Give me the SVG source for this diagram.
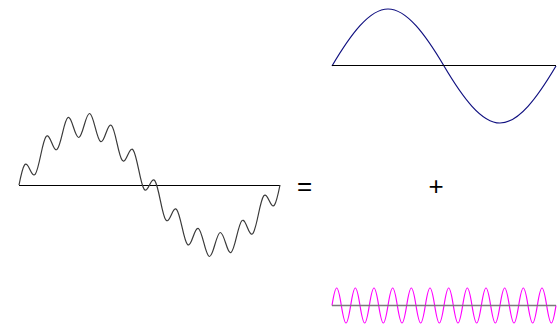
<svg xmlns="http://www.w3.org/2000/svg" width="559" height="326" viewBox="0 0 559 326">
<style>
.axis{stroke:#000;stroke-width:1;fill:none}
.wave{fill:none;stroke-width:1.2;stroke-linejoin:round}
.sym{font-family:"Liberation Sans",Arial,sans-serif;font-size:26px;fill:#000;text-anchor:middle}
</style>
<rect width="559" height="326" fill="#fff"/>
<g id="composite">
<line class="axis" x1="19" y1="185.5" x2="280" y2="185.5"/>
<path class="wave" stroke="#3a3a3a" d="M19,185 C20.81,176.10 22.63,167.76 24.44,165.17 C26.25,162.57 28.06,165.72 29.88,169.47 C31.69,173.23 33.50,176.46 35.31,174.04 C37.13,171.62 38.94,163.55 40.75,155 C42.56,146.45 44.38,138.55 46.19,136.47 C48.00,134.40 49.81,138.14 51.63,142.57 C53.44,147.01 55.25,150.99 57.06,149.40 C58.88,147.81 60.69,140.63 62.5,133.04 C64.31,125.45 66.13,118.57 67.94,117.57 C69.75,116.57 71.56,121.44 73.38,127.04 C75.19,132.65 77.00,137.86 78.81,137.51 C80.63,137.17 82.44,131.28 84.25,125 C86.06,118.72 87.88,113.17 89.69,113.51 C91.50,113.86 93.31,120.08 95.13,127.04 C96.94,134.01 98.75,140.57 100.56,141.57 C102.38,142.57 104.19,138.01 106,133.04 C107.81,128.06 109.63,123.81 111.44,125.40 C113.25,126.99 115.06,134.44 116.88,142.57 C118.69,150.71 120.50,158.40 122.31,160.47 C124.13,162.55 125.94,159.02 127.75,155 C129.56,150.98 131.38,147.62 133.19,150.04 C135.00,152.46 136.81,160.66 138.63,169.47 C140.44,178.28 142.25,186.57 144.06,189.17 C145.88,191.76 147.69,188.67 149.5,185 C151.31,181.34 153.13,178.24 154.94,180.83 C156.75,183.43 158.56,191.72 160.38,200.53 C162.19,209.34 164.00,217.54 165.81,219.96 C167.63,222.38 169.44,219.02 171.25,215 C173.06,210.98 174.88,207.45 176.69,209.53 C178.50,211.60 180.31,219.29 182.13,227.43 C183.94,235.56 185.75,243.01 187.56,244.60 C189.38,246.20 191.19,241.94 193,236.96 C194.81,231.99 196.63,227.43 198.44,228.43 C200.25,229.44 202.06,236.00 203.88,242.96 C205.69,249.92 207.50,256.14 209.31,256.49 C211.13,256.83 212.94,251.28 214.75,245 C216.56,238.72 218.38,232.83 220.19,232.49 C222.00,232.14 223.81,237.35 225.63,242.96 C227.44,248.56 229.25,253.44 231.06,252.43 C232.88,251.43 234.69,244.55 236.5,236.96 C238.31,229.37 240.13,222.20 241.94,220.60 C243.75,219.01 245.56,222.99 247.38,227.43 C249.19,231.86 251.00,235.60 252.81,233.53 C254.63,231.45 256.44,223.55 258.25,215 C260.06,206.45 261.88,198.38 263.69,195.96 C265.50,193.54 267.31,196.78 269.13,200.53 C270.94,204.28 272.75,207.43 274.56,204.83 C276.38,202.24 278.19,193.90 280,185"/>
</g>
<g id="equals">
<text class="sym" x="304.5" y="195">=</text>
</g>
<g id="plus">
<text class="sym" x="436" y="195">+</text>
</g>
<g id="fundamental">
<path class="wave" stroke="#101080" d="M332,66 C350.67,34.52 369.33,9 388,9 C406.67,9 425.33,34.52 444,66 C462.67,97.48 481.33,123 500,123 C518.67,123 537.33,97.48 556,66"/>
<line class="axis" x1="332" y1="65.5" x2="556" y2="65.5"/>
</g>
<g id="harmonic">
<path class="wave" stroke="#ff00ff" d="M332,305.5 c1.5556,-9.665 3.1111,-17.5 4.6667,-17.5 c1.5556,0 3.1111,7.835 4.6667,17.5 c1.5556,9.665 3.1111,17.5 4.6667,17.5 c1.5556,0 3.1111,-7.835 4.6667,-17.5 c1.5556,-9.665 3.1111,-17.5 4.6667,-17.5 c1.5556,0 3.1111,7.835 4.6667,17.5 c1.5556,9.665 3.1111,17.5 4.6667,17.5 c1.5556,0 3.1111,-7.835 4.6667,-17.5 c1.5556,-9.665 3.1111,-17.5 4.6667,-17.5 c1.5556,0 3.1111,7.835 4.6667,17.5 c1.5556,9.665 3.1111,17.5 4.6667,17.5 c1.5556,0 3.1111,-7.835 4.6667,-17.5 c1.5556,-9.665 3.1111,-17.5 4.6667,-17.5 c1.5556,0 3.1111,7.835 4.6667,17.5 c1.5556,9.665 3.1111,17.5 4.6667,17.5 c1.5556,0 3.1111,-7.835 4.6667,-17.5 c1.5556,-9.665 3.1111,-17.5 4.6667,-17.5 c1.5556,0 3.1111,7.835 4.6667,17.5 c1.5556,9.665 3.1111,17.5 4.6667,17.5 c1.5556,0 3.1111,-7.835 4.6667,-17.5 c1.5556,-9.665 3.1111,-17.5 4.6667,-17.5 c1.5556,0 3.1111,7.835 4.6667,17.5 c1.5556,9.665 3.1111,17.5 4.6667,17.5 c1.5556,0 3.1111,-7.835 4.6667,-17.5 c1.5556,-9.665 3.1111,-17.5 4.6667,-17.5 c1.5556,0 3.1111,7.835 4.6667,17.5 c1.5556,9.665 3.1111,17.5 4.6667,17.5 c1.5556,0 3.1111,-7.835 4.6667,-17.5 c1.5556,-9.665 3.1111,-17.5 4.6667,-17.5 c1.5556,0 3.1111,7.835 4.6667,17.5 c1.5556,9.665 3.1111,17.5 4.6667,17.5 c1.5556,0 3.1111,-7.835 4.6667,-17.5 c1.5556,-9.665 3.1111,-17.5 4.6667,-17.5 c1.5556,0 3.1111,7.835 4.6667,17.5 c1.5556,9.665 3.1111,17.5 4.6667,17.5 c1.5556,0 3.1111,-7.835 4.6667,-17.5 c1.5556,-9.665 3.1111,-17.5 4.6667,-17.5 c1.5556,0 3.1111,7.835 4.6667,17.5 c1.5556,9.665 3.1111,17.5 4.6667,17.5 c1.5556,0 3.1111,-7.835 4.6667,-17.5 c1.5556,-9.665 3.1111,-17.5 4.6667,-17.5 c1.5556,0 3.1111,7.835 4.6667,17.5 c1.5556,9.665 3.1111,17.5 4.6667,17.5 c1.5556,0 3.1111,-7.835 4.6667,-17.5 c1.5556,-9.665 3.1111,-17.5 4.6667,-17.5 c1.5556,0 3.1111,7.835 4.6667,17.5 c1.5556,9.665 3.1111,17.5 4.6667,17.5 c1.5556,0 3.1111,-7.835 4.6667,-17.5"/>
<line x1="332" y1="305.5" x2="556" y2="305.5" stroke="#7a7a7a" stroke-width="1.3"/>
</g>
</svg>
